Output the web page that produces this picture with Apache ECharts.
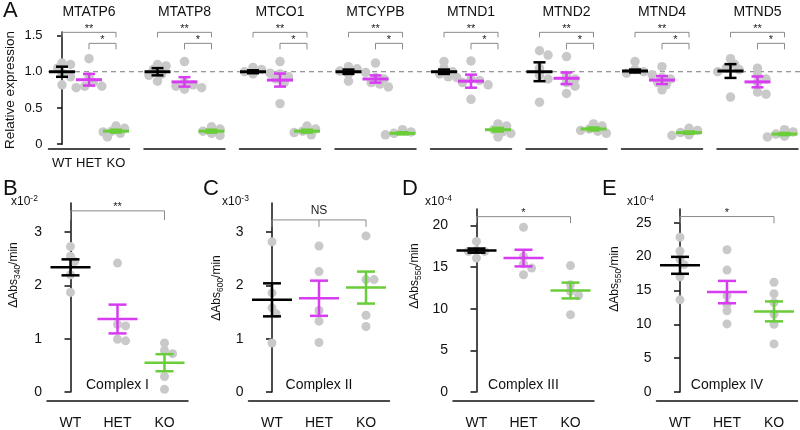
<!DOCTYPE html>
<html><head><meta charset="utf-8">
<script src="https://cdn.jsdelivr.net/npm/echarts@6/dist/echarts.min.js"></script>
<style>html,body{margin:0;padding:0;background:#fff}#c{width:800px;height:430px}</style>
</head><body><div id="c"></div>
<script>
// ---------------- DATA ----------------
const groups = ['WT', 'HET', 'KO'];

// Panel A: relative expression per gene
const genes = ['MTATP6', 'MTATP8', 'MTCO1', 'MTCYPB', 'MTND1', 'MTND2', 'MTND4', 'MTND5'];
const geneMeanWT  = [1.00, 1.00, 1.00, 1.00, 1.00, 1.00, 1.01, 1.01];
const geneSemWT   = [0.07, 0.05, 0.02, 0.03, 0.03, 0.13, 0.02, 0.095];
const geneMeanHET = [0.89, 0.86, 0.885, 0.90, 0.87, 0.91, 0.885, 0.86];
const geneSemHET  = [0.08, 0.065, 0.09, 0.05, 0.09, 0.08, 0.055, 0.075];
const geneMeanKO  = [0.18, 0.18, 0.18, 0.15, 0.20, 0.21, 0.16, 0.14];
const geneSemKO   = [0.02, 0.02, 0.02, 0.015, 0.025, 0.02, 0.015, 0.015];
const genePointsWT = [
  [1.12, 1.10, 1.05, 0.98, 0.93, 0.82],
  [1.10, 1.08, 1.03, 0.97, 0.95, 0.87],
  [1.06, 1.03, 1.00, 0.98, 0.97, 0.96],
  [1.07, 1.04, 1.01, 0.99, 0.97, 0.87],
  [1.14, 1.05, 1.00, 0.97, 0.93, 0.92],
  [1.29, 1.23, 1.05, 0.95, 0.90, 0.58],
  [1.14, 1.03, 1.00, 0.98, 0.96, 0.95],
  [1.18, 1.10, 1.05, 1.03, 1.00, 0.65]
];
const genePointsHET = [
  [1.18, 0.93, 0.85, 0.80, 0.78, 0.80],
  [1.14, 0.85, 0.80, 0.78, 0.76, 0.82],
  [1.14, 0.97, 0.93, 0.90, 0.85, 0.56],
  [1.12, 0.92, 0.90, 0.85, 0.83, 0.79],
  [1.15, 0.90, 0.88, 0.85, 0.82, 0.62],
  [1.21, 0.95, 0.90, 0.85, 0.80, 0.70],
  [1.07, 0.92, 0.90, 0.85, 0.82, 0.75],
  [1.05, 0.95, 0.90, 0.85, 0.72, 0.69]
];
const genePointsKO = [
  [0.25, 0.22, 0.18, 0.15, 0.10, 0.17],
  [0.24, 0.21, 0.18, 0.15, 0.12, 0.18],
  [0.25, 0.21, 0.18, 0.16, 0.13, 0.15],
  [0.20, 0.17, 0.15, 0.13, 0.12, 0.15],
  [0.28, 0.25, 0.20, 0.17, 0.15, 0.10],
  [0.28, 0.25, 0.21, 0.19, 0.15, 0.18],
  [0.22, 0.19, 0.16, 0.14, 0.12, 0.13],
  [0.20, 0.17, 0.14, 0.12, 0.10, 0.11]
];
const geneTicks = [0, 0.5, 1.0, 1.5];
const geneReference = 1.0;
const geneSigText = ['**', '*'];          // WT vs KO, HET vs KO
const geneSigFrom = [0, 1];
const geneSigTo = [2, 2];
const geneSigLevel = [1.544, 1.392];
const geneSigDrop = [1.475, 1.309];

// Panels B-E: enzyme activities
const complexNames = ['Complex I', 'Complex II', 'Complex III', 'Complex IV'];
const complexLetters = ['B', 'C', 'D', 'E'];
const complexWave = ['340', '600', '550', '550'];
const complexExp = ['-2', '-3', '-4', '-4'];
const complexMeanWT  = [2.34, 1.73, 17.0, 18.7];
const complexSemWT   = [0.15, 0.31, 0.25, 1.25];
const complexMeanHET = [1.37, 1.76, 16.1, 14.75];
const complexSemHET  = [0.27, 0.33, 1.0, 1.65];
const complexMeanKO  = [0.55, 1.96, 12.2, 11.9];
const complexSemKO   = [0.16, 0.30, 0.95, 1.47];
const complexPointsWT = [
  [2.73, 2.55, 2.45, 2.20, 1.87],
  [2.82, 1.86, 1.58, 1.47, 0.92],
  [18.1, 17.0, 16.9, 16.9, 16.1],
  [22.85, 20.8, 19.6, 18.8, 17.0, 13.6]
];
const complexPointsHET = [
  [2.42, 1.27, 1.24, 0.99, 0.96],
  [2.74, 2.26, 1.53, 1.33, 0.93],
  [19.8, 16.3, 15.4, 14.9, 14.1],
  [21.0, 18.0, 14.2, 12.9, 12.0, 10.05]
];
const complexPointsKO = [
  [0.92, 0.78, 0.72, 0.29, 0.05],
  [2.93, 2.11, 2.11, 1.44, 1.23],
  [15.2, 12.9, 12.1, 11.6, 9.3],
  [16.2, 14.5, 13.2, 11.5, 10.0, 7.1]
];
const complexTicks = [[0, 1, 2, 3], [0, 1, 2, 3], [0, 5, 10, 15, 20], [0, 5, 10, 15, 20, 25]];
const complexMax = [3.55, 3.55, 22, 27];
const complexSigText = ['**', 'NS', '*', '*'];
const complexSigLevel = [3.40, 3.23, 21.08, 25.9];
const complexSigDrop = [3.23, 3.10, 20.3, 24.9];
const complexSigMid = [false, true, false, false];

// ---------------- STYLE / LAYOUT ----------------
const FONT = '"Liberation Sans", Arial, Helvetica, sans-serif';
const groupColors = ['#000000', '#d63cf0', '#6acd3a'];
const pointColor = '#c9c9c9';
const axisColor = '#111';
const bracketColor = '#8a8a8a';

const grids = [], xAxes = [], yAxes = [], series = [], graphics = [];

// simple beeswarm layout (pixel based) so that points do not stack exactly
function swarm(values, ppu, catPx, d) {
  const order = values.map((v, i) => i).sort((a, b) => values[b] - values[a]);
  const placed = [];
  const off = new Array(values.length).fill(0);
  const step = d * 0.45;
  for (const i of order) {
    const y = values[i] * ppu;
    for (let k = 0; k < 40; k++) {
      const dx = k === 0 ? 0 : (k % 2 ? 1 : -1) * Math.ceil(k / 2) * step;
      if (placed.every(p => Math.hypot(p[0] - dx, p[1] - y) >= d * 0.66)) {
        off[i] = dx; placed.push([dx, y]); break;
      }
    }
  }
  return off.map(o => o / catPx);
}

function addPanel(o) {
  const g = grids.length;
  grids.push({ left: o.left, top: o.top, width: o.width, height: o.height, containLabel: false });
  yAxes.push({
    type: 'value', gridIndex: g, min: 0, max: o.max, show: o.showY,
    axisLine: { show: true, lineStyle: { color: axisColor, width: 1.5 } },
    axisTick: { show: true, length: o.tickLen, customValues: o.ticks, lineStyle: { color: axisColor, width: 1.5 } },
    axisLabel: { show: true, customValues: o.ticks, formatter: o.fmt, margin: o.labelMargin,
      fontSize: o.fontSize, color: axisColor, fontFamily: FONT },
    splitLine: { show: false }
  });
  xAxes.push({
    type: 'category', gridIndex: g, data: groups, position: 'bottom', offset: o.xOffset,
    axisLine: { onZero: false, lineStyle: { color: axisColor, width: 1.5 } },
    axisTick: { alignWithLabel: true, length: o.xTickLen, lineStyle: { color: axisColor, width: 1.5 } },
    axisLabel: { show: o.showXLabels, interval: 0, hideOverlap: false, fontSize: o.fontSize, color: axisColor,
      fontFamily: FONT, margin: o.xLabelMargin },
    splitLine: { show: false }
  });
  xAxes.push({ type: 'value', gridIndex: g, min: -0.5, max: 2.5, show: false });
  const xv = xAxes.length - 1;

  // points
  const catPx = o.width / 3;
  const pts = [];
  o.points.forEach((vals, k) => {
    const offs = swarm(vals, o.ppu, catPx, o.dot);
    vals.forEach((v, i) => pts.push([k + offs[i], v]));
  });
  series.push({
    type: 'scatter', xAxisIndex: xv, yAxisIndex: g, data: pts, symbolSize: o.dot, silent: true,
    itemStyle: { color: pointColor, opacity: 1 }, z: 2
  });

  // mean +/- SEM
  const mw = o.meanHalf, cw = o.capHalf;
  series.push({
    type: 'custom', xAxisIndex: xv, yAxisIndex: g, silent: true, z: 4,
    data: o.means.map((m, k) => [k, m, o.sems[k]]),
    renderItem: function (params, api) {
      const k = api.value(0), m = api.value(1), s = api.value(2);
      const pm = api.coord([k, m]), pt = api.coord([k, m + s]), pb = api.coord([k, m - s]);
      const c = groupColors[k];
      return { type: 'group', children: [
        { type: 'line', shape: { x1: pt[0], y1: pt[1], x2: pb[0], y2: pb[1] }, style: { stroke: c, lineWidth: o.errW } },
        { type: 'line', shape: { x1: pt[0] - cw, y1: pt[1], x2: pt[0] + cw, y2: pt[1] }, style: { stroke: c, lineWidth: o.errW } },
        { type: 'line', shape: { x1: pb[0] - cw, y1: pb[1], x2: pb[0] + cw, y2: pb[1] }, style: { stroke: c, lineWidth: o.errW } },
        { type: 'line', shape: { x1: pm[0] - mw, y1: pm[1], x2: pm[0] + mw, y2: pm[1] }, style: { stroke: c, lineWidth: o.meanW } }
      ] };
    }
  });

  // significance brackets
  series.push({
    type: 'custom', xAxisIndex: xv, yAxisIndex: g, silent: true, z: 5, clip: false,
    data: o.sig.map(s => [s.from, s.to, s.level, s.drop, s.mid ? 1 : 0]),
    renderItem: function (params, api) {
      const a = api.coord([api.value(0), api.value(2)]);
      const b = api.coord([api.value(1), api.value(2)]);
      const da = api.coord([api.value(0), api.value(3)]);
      const children = [
        { type: 'polyline', shape: { points: [[da[0], da[1]], a, b, [b[0], da[1]]] },
          style: { stroke: bracketColor, lineWidth: 1, fill: null } }
      ];
      if (api.value(4)) {
        const mx = (a[0] + b[0]) / 2;
        children.push({ type: 'line', shape: { x1: mx, y1: a[1], x2: mx, y2: da[1] }, style: { stroke: bracketColor, lineWidth: 1 } });
      }
      const t = o.sig[params.dataIndex].text;
      children.push({ type: 'text', x: (a[0] + b[0]) / 2, y: a[1] - (t === 'NS' ? 3 : -2),
        style: { text: t, align: 'center', verticalAlign: 'bottom', fontSize: t === 'NS' ? 12 : o.starSize,
          fontFamily: FONT, fill: '#222' } });
      return { type: 'group', children };
    }
  });
  return g;
}

// ---- Panel A ----
const aTop = 31.9, aZero = 144.2, aMax = 1.55;
const aPPU = (aZero - aTop) / aMax;
const aLeft0 = 48.5, aStep = 95.5, aWidth = 81;
genes.forEach((name, i) => {
  addPanel({
    left: aLeft0 + aStep * i, top: aTop, width: aWidth, height: aZero - aTop, max: aMax,
    ticks: geneTicks, fmt: v => (v === 0 ? '0' : v.toFixed(1)), showY: i === 0,
    tickLen: 5, labelMargin: 6, fontSize: 13, xOffset: 5, xTickLen: 5, showXLabels: i === 0, xLabelMargin: 8,
    ppu: aPPU, dot: 9.5,
    points: [genePointsWT[i], genePointsHET[i], genePointsKO[i]],
    means: [geneMeanWT[i], geneMeanHET[i], geneMeanKO[i]],
    sems: [geneSemWT[i], geneSemHET[i], geneSemKO[i]],
    meanHalf: 13, capHalf: 6, meanW: 3, errW: 2.5, starSize: 11,
    sig: geneSigText.map((t, j) => ({ from: geneSigFrom[j], to: geneSigTo[j], level: geneSigLevel[j], drop: geneSigDrop[j], text: t }))
  });
  graphics.push({ type: 'text', x: aLeft0 + aStep * i + aWidth / 2, y: 12.5,
    style: { text: name, align: 'center', verticalAlign: 'middle', fontSize: 14, fontFamily: FONT, fill: '#111' } });
});
// reference dashed line across panel A
{
  const g = grids.length;
  grids.push({ left: 48, right: 0, top: aTop, height: aZero - aTop });
  xAxes.push({ type: 'value', gridIndex: g, min: 0, max: 1, show: false });
  yAxes.push({ type: 'value', gridIndex: g, min: 0, max: aMax, show: false });
  series.push({ type: 'line', xAxisIndex: xAxes.length - 1, yAxisIndex: yAxes.length - 1, silent: true, z: 1,
    symbol: 'none', data: [[0, geneReference], [1, geneReference]],
    lineStyle: { color: '#777', width: 1, type: [5, 4] } });
}
graphics.push({ type: 'text', x: 3, y: 11, style: { text: 'A', verticalAlign: 'middle', fontSize: 22, fontFamily: FONT, fill: '#111' } });
graphics.push({ type: 'text', x: 10, y: 90, rotation: Math.PI / 2,
  style: { text: 'Relative expression', align: 'center', verticalAlign: 'middle', fontSize: 13.5, fontFamily: FONT, fill: '#111' } });

// ---- Panels B-E ----
const bZero = 392.7;
const bLefts = [47, 248.5, 453, 656.5];
const bWidth = 141;
const bPPU = [53.47, 53.47, 8.35, 6.8];
const bTitleX = [14, 217, 415, 615];
const bTitleY = [275, 288, 276, 279];
const bLetterX = [3, 203, 402, 602];
const bExpX = [11, 222, 425, 627];
complexNames.forEach((name, i) => {
  const h = complexMax[i] * bPPU[i];
  addPanel({
    left: bLefts[i], top: bZero - h, width: bWidth, height: h, max: complexMax[i],
    ticks: complexTicks[i], fmt: v => String(v), showY: true,
    tickLen: 6, labelMargin: 5, fontSize: 14, xOffset: 9, xTickLen: 6, showXLabels: true, xLabelMargin: 15,
    ppu: bPPU[i], dot: 9,
    points: [complexPointsWT[i], complexPointsHET[i], complexPointsKO[i]],
    means: [complexMeanWT[i], complexMeanHET[i], complexMeanKO[i]],
    sems: [complexSemWT[i], complexSemHET[i], complexSemKO[i]],
    meanHalf: 20, capHalf: 9, meanW: 2.5, errW: 2.5, starSize: 11,
    sig: [{ from: 0, to: 2, level: complexSigLevel[i], drop: complexSigDrop[i], mid: complexSigMid[i], text: complexSigText[i] }]
  });
  graphics.push({ type: 'text', x: bLetterX[i], y: 189,
    style: { text: complexLetters[i], verticalAlign: 'middle', fontSize: 22, fontFamily: FONT, fill: '#111' } });
  graphics.push({ type: 'text', x: bLefts[i] + bWidth / 2, y: 385,
    style: { text: name, align: 'center', verticalAlign: 'middle', fontSize: 14, fontFamily: FONT, fill: '#111' } });
  graphics.push({ type: 'text', x: bExpX[i], y: 202,
    style: { text: 'x10{sup|' + complexExp[i] + '}', verticalAlign: 'middle', fontSize: 12, lineHeight: 16,
      fontFamily: FONT, fill: '#111', rich: { sup: { fontSize: 8.5, lineHeight: 6, verticalAlign: 'top', fontFamily: FONT, fill: '#111' } } } });
  graphics.push({ type: 'text', x: bTitleX[i], y: bTitleY[i], rotation: Math.PI / 2,
    style: { text: 'ΔAbs{sub|' + complexWave[i] + '}/min', align: 'center', verticalAlign: 'middle', fontSize: 12,
      lineHeight: 16, fontFamily: FONT, fill: '#111',
      rich: { sub: { fontSize: 8.5, lineHeight: 6, verticalAlign: 'bottom', fontFamily: FONT, fill: '#111' } } } });
});

const chart = echarts.init(document.getElementById('c'), null, { renderer: 'canvas' });
chart.setOption({
  animation: false,
  backgroundColor: '#fff',
  textStyle: { fontFamily: FONT },
  grid: grids, xAxis: xAxes, yAxis: yAxes, series: series, graphic: graphics
});
</script></body></html>
